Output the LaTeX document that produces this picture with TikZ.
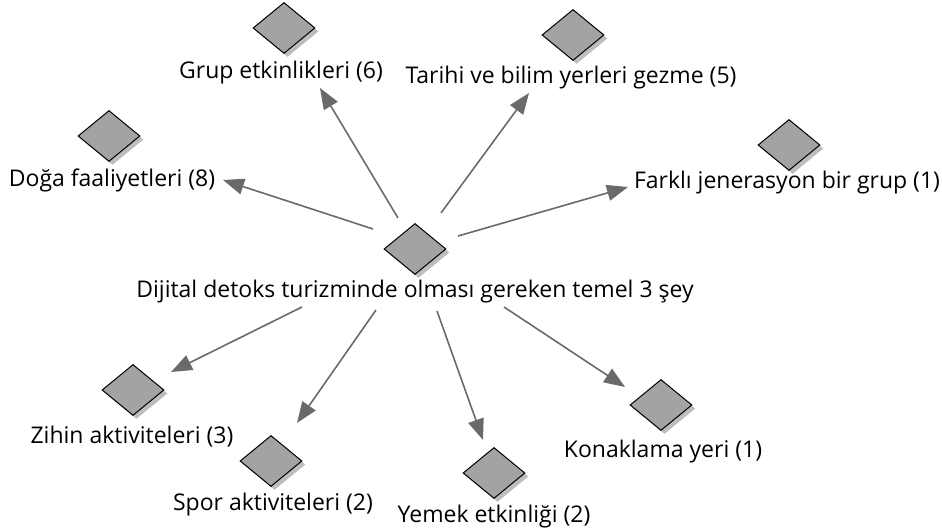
\documentclass[tikz,border=0pt]{standalone}
\usepackage{fontspec}
\setmainfont{Open Sans}
\usetikzlibrary{shapes.geometric,arrows.meta,shadows}
\definecolor{dmfill}{HTML}{A3A3A3}
\definecolor{dmshadow}{HTML}{BDBDBD}
\definecolor{linkgray}{HTML}{6A6A6A}
\tikzset{
  dm/.style={diamond, draw=black, line width=1pt, fill=dmfill,
    inner sep=0pt, minimum width=62pt, minimum height=51pt,
    drop shadow={shadow xshift=3.5pt, shadow yshift=-3.5pt, fill=dmshadow, opacity=1}},
  lbl/.style={inner sep=0pt, font=\fontsize{23}{25}\selectfont, text=black},
  link/.style={draw=linkgray, line width=1.6pt,
    -{Triangle[length=21pt,width=16pt]}},
}
\begin{document}
\begin{tikzpicture}[x=1pt,y=-1pt]
\useasboundingbox (0,0) rectangle (942,529);
% centre
\node[dm] (c) at (415,249) {};
\node[lbl] (cl) at (415,292) {Dijital detoks turizminde olması gereken temel 3 şey};
% outer items
\node[dm] (d1) at (284,28) {};
\node[lbl] (l1) at (281,73) {Grup etkinlikleri (6)};
\node[dm] (d2) at (573,35) {};
\node[lbl] (l2) at (571,78) {Tarihi ve bilim yerleri gezme (5)};
\node[dm] (d3) at (789,145) {};
\node[lbl] (l3) at (787,183) {Farklı jenerasyon bir grup (1)};
\node[dm] (d4) at (109,136) {};
\node[lbl] (l4) at (112,180) {Doğa faaliyetleri (8)};
\node[dm] (d5) at (133,390) {};
\node[lbl] (l5) at (132,437) {Zihin aktiviteleri (3)};
\node[dm] (d6) at (271,461) {};
\node[lbl] (l6) at (273,505) {Spor aktiviteleri (2)};
\node[dm] (d7) at (494,473) {};
\node[lbl] (l7) at (494,517) {Yemek etkinliği (2)};
\node[dm] (d8) at (661,405) {};
\node[lbl] (l8) at (663,452) {Konaklama yeri (1)};
% arrow ends
\coordinate (t1) at (398,218); \coordinate (h1) at (320,88);
\coordinate (t2) at (441,213); \coordinate (h2) at (529,93);
\coordinate (t3) at (458,236); \coordinate (h3) at (628,187);
\coordinate (t4) at (373,229); \coordinate (h4) at (223,180);
\coordinate (t5) at (302,307); \coordinate (h5) at (171,372);
\coordinate (t6) at (376,310); \coordinate (h6) at (297,423);
\coordinate (t7) at (437,311); \coordinate (h7) at (483,440);
\coordinate (t8) at (504,307); \coordinate (h8) at (625,387);
\foreach \i in {1,...,8} \draw[link] (t\i) -- (h\i);
\end{tikzpicture}
\end{document}
